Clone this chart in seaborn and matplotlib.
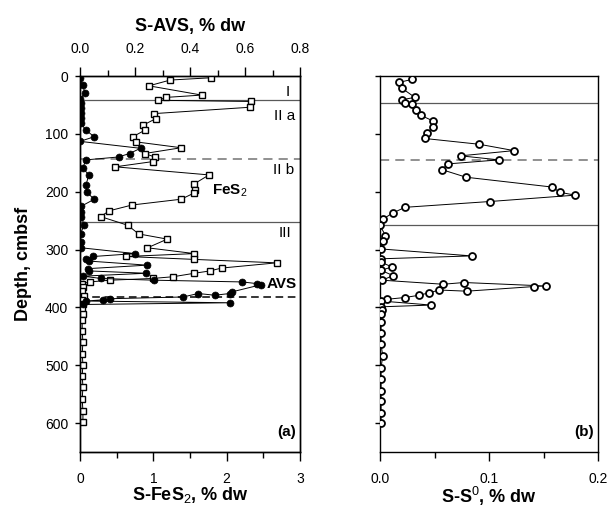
import numpy as np
import pandas as pd
import matplotlib
matplotlib.use("Agg")
import matplotlib.pyplot as plt
from matplotlib.ticker import MultipleLocator, FormatStrFormatter
import seaborn as sns

# ---------------- data ----------------
fes2_depth = [3, 7, 17, 33, 37, 42, 44, 54, 65, 74, 85, 94, 105, 114, 124, 134, 140, 148,
              157, 171, 187, 197, 202, 213, 223, 233, 243, 258, 273, 282, 297, 307, 312,
              317, 323, 332, 337, 341, 347, 350, 353, 356, 359, 365, 372, 380, 388, 395,
              403, 412, 422, 441, 460, 480, 499, 518, 537, 559, 579, 599]
fes2_val = [1.79, 1.23, 0.94, 1.66, 1.17, 1.07, 2.33, 2.32, 1.01, 1.03, 0.86, 0.88, 0.72,
            0.77, 1.38, 0.88, 1.02, 0.99, 0.48, 1.76, 1.55, 1.57, 1.56, 1.38, 0.71, 0.40,
            0.28, 0.65, 0.80, 1.19, 0.92, 1.56, 0.63, 1.55, 2.68, 1.93, 1.77, 1.56, 1.27,
            0.99, 0.41, 0.13, 0.03, 0.04, 0.03, 0.05, 0.03, 0.04, 0.03, 0.04, 0.03, 0.03,
            0.04, 0.03, 0.04, 0.03, 0.04, 0.03, 0.04, 0.04]

avs_depth = [3, 16, 29, 40, 47, 55, 64, 72, 81, 94, 105, 113, 125, 134, 140, 145, 159,
             171, 188, 201, 213, 225, 235, 243, 257, 273, 287, 297, 307, 312, 316, 320,
             327, 333, 337, 341, 346, 350, 353, 356, 359, 361, 373, 376, 379, 376, 382,
             385, 387, 389, 392, 395]
avs_val = [0.0, 0.01, 0.018, 0.001, 0.002, 0.003, 0.004, 0.003, 0.002, 0.022, 0.052,
           0.0, 0.22, 0.18, 0.14, 0.022, 0.01, 0.032, 0.022, 0.024, 0.052, 0.005, 0.004,
           0.004, 0.015, 0.002, 0.002, 0.005, 0.20, 0.049, 0.02, 0.034, 0.244, 0.03,
           0.034, 0.241, 0.01, 0.076, 0.27, 0.59, 0.645, 0.657, 0.554, 0.545, 0.49, 0.43,
           0.375, 0.11, 0.083, 0.02, 0.545, 0.01]

s0_depth = [6, 11, 21, 37, 41, 47, 48, 59, 68, 78, 88, 98, 108, 118, 129, 138, 145, 152,
            162, 175, 192, 201, 206, 217, 227, 237, 247, 258, 276, 286, 299, 311, 316,
            322, 330, 336, 345, 353, 360, 357, 363, 364, 372, 370, 375, 379, 383, 386,
            389, 396, 399, 405, 412, 426, 444, 464, 484, 504, 524, 544, 561, 582, 600]
s0_val = [0.029, 0.0177, 0.020, 0.032, 0.020, 0.0225, 0.029, 0.033, 0.0375, 0.049, 0.049,
          0.043, 0.041, 0.091, 0.123, 0.074, 0.109, 0.062, 0.057, 0.079, 0.158, 0.165,
          0.179, 0.1006, 0.023, 0.0115, 0.003, 0.0, 0.005, 0.003, 0.001, 0.084, 0.001,
          0.001, 0.011, 0.001, 0.012, 0.002, 0.058, 0.077, 0.152, 0.141, 0.0796, 0.0545,
          0.0445, 0.036, 0.0225, 0.0064, 0.001, 0.047, 0.001, 0.002, 0.001, 0.001, 0.001,
          0.001, 0.0025, 0.001, 0.001, 0.001, 0.001, 0.001, 0.001]

zones_a_solid = [42, 253]
zones_a_dash_gray = [143]
zones_a_dash_black = [382]
zones_b_solid = [46, 257]
zones_b_dash = [146]

depth_ticks = [0, 100, 200, 300, 400, 500, 600]
fes2_ticks = [0, 1, 2, 3]
avs_ticks = [0.0, 0.2, 0.4, 0.6, 0.8]
s0_ticks = [0.0, 0.1, 0.2]

# ---------------- style ----------------
sns.set_style("ticks")
plt.rcParams["font.family"] = ["Liberation Sans", "DejaVu Sans"]
plt.rcParams["axes.linewidth"] = 1.0
plt.rcParams["text.color"] = "black"
plt.rcParams["axes.labelcolor"] = "black"
plt.rcParams["xtick.color"] = "black"
plt.rcParams["ytick.color"] = "black"
plt.rcParams["axes.edgecolor"] = "black"
plt.rcParams["mathtext.fontset"] = "custom"
plt.rcParams["mathtext.rm"] = "Liberation Sans"
plt.rcParams["mathtext.bf"] = "Liberation Sans:bold"

W, H = 611, 508
fig = plt.figure(figsize=(W / 100, H / 100), dpi=100)
ax_a = fig.add_axes([80 / W, (H - 452) / H, 220 / W, 376 / H])
ax_b = fig.add_axes([380 / W, (H - 452) / H, 218 / W, 376 / H])

df_fes2 = pd.DataFrame({"depth": fes2_depth, "val": fes2_val})
df_avs = pd.DataFrame({"depth": avs_depth, "val": avs_val})
df_s0 = pd.DataFrame({"depth": s0_depth, "val": s0_val})

# horizontal zone lines
for d in zones_a_solid:
    ax_a.axhline(d, color="0.35", lw=0.9, zorder=1)
for d in zones_a_dash_gray:
    ax_a.axhline(d, color="0.45", lw=1.1, ls=(0, (6, 4)), zorder=1)
for d in zones_a_dash_black:
    ax_a.axhline(d, color="black", lw=1.1, ls=(0, (5, 3)), zorder=1)
for d in zones_b_solid:
    ax_b.axhline(d, color="0.35", lw=0.9, zorder=1)
for d in zones_b_dash:
    ax_b.axhline(d, color="0.45", lw=1.1, ls=(0, (6, 4)), zorder=1)

# FeS2 (bottom axis)
sns.lineplot(data=df_fes2, x="val", y="depth", sort=False, estimator=None, ax=ax_a,
             color="black", lw=0.7, marker="s", markersize=4.8, markerfacecolor="white",
             markeredgecolor="black", markeredgewidth=1.0, zorder=3)

# AVS (top axis)
ax_t = ax_a.twiny()
sns.lineplot(data=df_avs, x="val", y="depth", sort=False, estimator=None, ax=ax_t,
             color="black", lw=0.7, marker="o", markersize=5, markerfacecolor="black",
             markeredgecolor="black", markeredgewidth=0.5, zorder=3)

# S0 panel b
sns.lineplot(data=df_s0, x="val", y="depth", sort=False, estimator=None, ax=ax_b,
             color="black", lw=0.7, marker="o", markersize=5, markerfacecolor="white",
             markeredgecolor="black", markeredgewidth=1.3, zorder=3)

for ax in (ax_a, ax_t, ax_b):
    ax.set_ylim(650, 0)

ax_a.set_xlim(0, 3)
ax_t.set_xlim(0, 0.8)
ax_b.set_xlim(0, 0.2)

ax_a.set_xticks(fes2_ticks)
ax_a.xaxis.set_minor_locator(MultipleLocator(0.5))
ax_t.set_xticks(avs_ticks)
ax_t.xaxis.set_major_formatter(FormatStrFormatter("%.1f"))
ax_t.xaxis.set_minor_locator(MultipleLocator(0.1))
ax_b.set_xticks(s0_ticks)
ax_b.xaxis.set_major_formatter(FormatStrFormatter("%.1f"))
ax_b.xaxis.set_minor_locator(MultipleLocator(0.05))

ax_a.set_yticks(depth_ticks)
ax_b.set_yticks(depth_ticks)
ax_b.set_yticklabels([])
ax_t.set_ylim(650, 0)

for ax in (ax_a, ax_t, ax_b):
    ax.tick_params(axis="x", which="major", length=6.5, width=1.0, labelsize=10, pad=8,
                   color="black", labelcolor="black")
    ax.tick_params(axis="x", which="minor", length=4, width=1.0, color="black")
    ax.tick_params(axis="y", which="major", length=3.5, width=1.0, labelsize=10, pad=5,
                   color="black", labelcolor="black")
    for s in ax.spines.values():
        s.set_visible(True)
        s.set_color("black")
        s.set_linewidth(1.0)

ax_a.set_xlabel("S-FeS$_2$, % dw", fontsize=13, fontweight="bold", labelpad=-1, color="black")
ax_t.set_xlabel("S-AVS, % dw", fontsize=13, fontweight="bold", labelpad=8, color="black")
ax_b.set_xlabel("S-S$^0$, % dw", fontsize=13, fontweight="bold", labelpad=-1, color="black")
ax_a.set_ylabel("Depth, cmbsf", fontsize=13, fontweight="bold", labelpad=9, color="black")
ax_t.set_ylabel("")
ax_b.set_ylabel("")

# annotations (panel a, FeS2 coordinates)
ax_a.text(2.83, 27, "I", fontsize=11, ha="center", va="center")
ax_a.text(2.79, 69, "II a", fontsize=11, ha="center", va="center")
ax_a.text(2.77, 163, "II b", fontsize=11, ha="center", va="center")
ax_a.text(2.04, 199, "FeS$_2$", fontsize=11, ha="center", va="center", fontweight="bold")
ax_a.text(2.80, 272, "III", fontsize=11, ha="center", va="center")
ax_a.text(2.75, 360, "AVS", fontsize=11, ha="center", va="center", fontweight="bold")
ax_a.text(2.82, 616, "(a)", fontsize=11, ha="center", va="center", fontweight="bold")
ax_b.text(0.187, 616, "(b)", fontsize=11, ha="center", va="center", fontweight="bold")

fig.savefig("out.png", dpi=100)
